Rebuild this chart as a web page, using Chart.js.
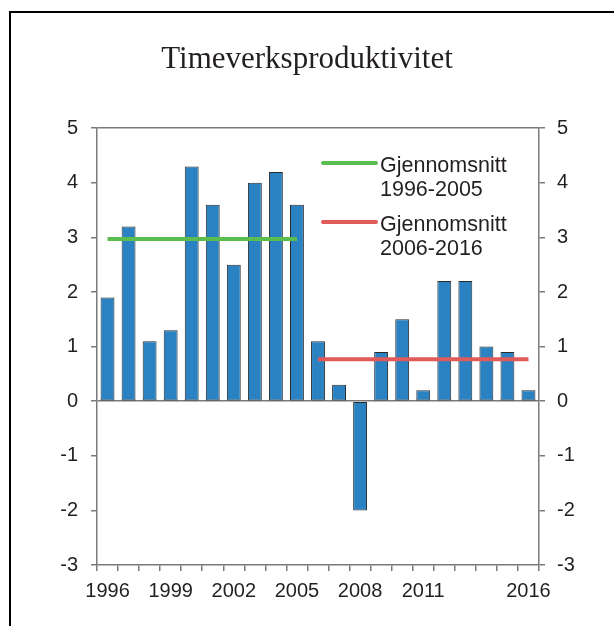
<!DOCTYPE html>
<html>
<head>
<meta charset="utf-8">
<script src="https://cdn.jsdelivr.net/npm/chart.js@4"></script>
<style>
  html, body { margin: 0; padding: 0; background: #fff; overflow: hidden; }
  #frame { position: absolute; left: 9px; top: 11px; width: 620px; height: 700px; border: 2px solid #000; box-sizing: border-box; }
  #wrap { position: absolute; left: 0; top: 0; width: 614px; height: 626px; }
</style>
</head>
<body>
<div id="frame"></div>
<div id="wrap"><canvas id="out" width="614" height="626"></canvas></div>
<script>
// data
const years = ["1996", "1997", "1998", "1999", "2000", "2001", "2002", "2003", "2004", "2005", "2006",
    "2007", "2008", "2009", "2010", "2011", "2012", "2013", "2014", "2015", "2016"];
const productivity = [1.9, 3.2, 1.1, 1.3, 4.3, 3.6, 2.5, 4.0, 4.2, 3.6, 1.1,
    0.3, -2.0, 0.9, 1.5, 0.2, 2.2, 2.2, 1.0, 0.9, 0.2];
const avgFirst = [2.97, 2.97, 2.97, 2.97, 2.97, 2.97, 2.97, 2.97, 2.97, 2.97, null,
    null, null, null, null, null, null, null, null, null, null];
const avgSecond = [null, null, null, null, null, null, null, null, null, null, 0.77,
    0.77, 0.77, 0.77, 0.77, 0.77, 0.77, 0.77, 0.77, 0.77, 0.77];
const shownYears = ["1996", "1999", "2002", "2005", "2008", "2011", "2016"];
const yTicks = [-3, -2, -1, 0, 1, 2, 3, 4, 5];
const titleText = "Timeverksproduktivitet";
const legendFirst = ["Gjennomsnitt", "1996-2005"];
const legendSecond = ["Gjennomsnitt", "2006-2016"];

const axisGray = "#7a7a7a";
const textColor = "#231f20";
const sans = "'Liberation Sans', Arial, Helvetica, sans-serif";

// legend drawn by hand, two-line labels
const sideLegend = {
    id: "sideLegend",
    afterDatasetsDraw(chart) {
        const ctx = chart.ctx;
        const items = chart.data.datasets.filter(d => d.legendLines);
        ctx.save();
        ctx.font = "21.5px " + sans;
        ctx.fillStyle = textColor;
        ctx.textBaseline = "alphabetic";
        items.forEach((d, i) => {
            const y = 163 + i * 59;
            ctx.strokeStyle = d.borderColor;
            ctx.lineWidth = 4;
            ctx.lineCap = "round";
            ctx.beginPath();
            ctx.moveTo(323, y);
            ctx.lineTo(376, y);
            ctx.stroke();
            d.legendLines.forEach((t, j) => {
                ctx.fillText(t, 380, y + 8.5 + j * 24);
            });
        });
        ctx.restore();
    }
};

const tickFont = { family: sans, size: 20 };

const chartConfig = {
    type: "bar",
    data: {
        labels: years,
        datasets: [
            {
                type: "line",
                label: "Gjennomsnitt 1996-2005",
                legendLines: legendFirst,
                data: avgFirst,
                borderColor: "#5bbd4e",
                borderWidth: 4,
                pointRadius: 0,
                spanGaps: false,
                order: 0
            },
            {
                type: "line",
                label: "Gjennomsnitt 2006-2016",
                legendLines: legendSecond,
                data: avgSecond,
                borderColor: "#e05a5a",
                borderWidth: 4,
                pointRadius: 0,
                spanGaps: false,
                order: 0
            },
            {
                label: "Timeverksproduktivitet",
                data: productivity,
                backgroundColor: "#2a82c2",
                borderColor: "#2b2b2b",
                borderWidth: 1,
                borderSkipped: false,
                barPercentage: 0.66,
                categoryPercentage: 1,
                order: 1
            }
        ]
    },
    options: {
        responsive: false,
        animation: false,
        layout: { padding: { top: 41, left: 0, right: 0, bottom: 0 } },
        plugins: {
            legend: { display: false },
            tooltip: { enabled: false },
            title: {
                display: true,
                text: titleText,
                color: textColor,
                font: { family: "'Liberation Serif', 'Times New Roman', serif", size: 31, weight: "normal" },
                padding: { top: 0, bottom: 50 }
            }
        },
        scales: {
            x: {
                offset: true,
                grid: {
                    offset: true,
                    drawOnChartArea: false,
                    tickLength: 6,
                    tickColor: axisGray,
                    lineWidth: 1.5
                },
                border: { display: true, color: axisGray, width: 1.5 },
                ticks: {
                    autoSkip: false,
                    maxRotation: 0,
                    color: textColor,
                    font: tickFont,
                    padding: 8,
                    callback: function(value, index) {
                        const y = years[index];
                        return shownYears.includes(y) ? y : "";
                    }
                },
                afterFit: scale => { scale.height = 61; }
            },
            y: {
                position: "left",
                min: -3,
                max: 5,
                afterBuildTicks: scale => { scale.ticks = yTicks.map(v => ({ value: v })); },
                grid: {
                    color: c => (c.tick && (c.tick.value === 0 || c.tick.value === 5)) ? axisGray : "rgba(0,0,0,0)",
                    tickColor: axisGray,
                    tickLength: 6,
                    lineWidth: 1.5
                },
                border: { display: true, color: axisGray, width: 1.5 },
                ticks: { color: textColor, font: tickFont, padding: 13 },
                afterFit: scale => { scale.width = 97; }
            },
            y2: {
                position: "right",
                min: -3,
                max: 5,
                afterBuildTicks: scale => { scale.ticks = yTicks.map(v => ({ value: v })); },
                grid: {
                    drawOnChartArea: false,
                    tickColor: axisGray,
                    tickLength: 6,
                    lineWidth: 1.5
                },
                border: { display: true, color: axisGray, width: 1.5 },
                ticks: { color: textColor, font: tickFont, padding: 12 },
                afterFit: scale => { scale.width = 75; }
            }
        }
    },
    plugins: [sideLegend]
};

const canvasCtx = document.getElementById("out").getContext("2d");
window.chart = new Chart(canvasCtx, chartConfig);
</script>
</body>
</html>
